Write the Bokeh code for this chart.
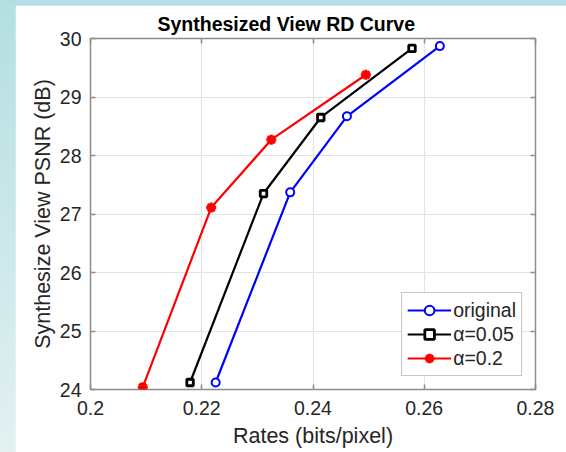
from bokeh.plotting import figure
from bokeh.models import Range1d, FixedTicker, LinearAxis
from bokeh.layouts import column
from bokeh.embed import file_html
from bokeh.resources import INLINE

# ---- data ----
x_ticks = [0.2, 0.22, 0.24, 0.26, 0.28]
x_tick_labels = ["0.2", "0.22", "0.24", "0.26", "0.28"]
y_ticks = [24, 25, 26, 27, 28, 29, 30]
y_tick_labels = ["24", "25", "26", "27", "28", "29", "30"]

rate_original = [0.2225, 0.2359, 0.2461, 0.2628]
psnr_original = [24.12, 27.37, 28.67, 29.87]

rate_a005 = [0.2179, 0.2311, 0.2414, 0.2578]
psnr_a005 = [24.12, 27.35, 28.65, 29.83]

rate_a02 = [0.2094, 0.2217, 0.2325, 0.2495]
psnr_a02 = [24.04, 27.11, 28.27, 29.38]

series_labels = ["original", "α=0.05", "α=0.2"]

FONT = "Liberation Sans"
TXT = "#262626"
AX = "#8c8c8c"

p = figure(width=551, height=447, output_backend="svg", toolbar_location=None,
           x_range=Range1d(0.2, 0.28), y_range=Range1d(24, 30),
           title="Synthesized View RD Curve",
           min_border_left=75, min_border_right=31,
           min_border_top=33, min_border_bottom=63)
p.margin = (5, 0, 0, 15)
p.background_fill_color = "white"
p.border_fill_color = "white"
p.outline_line_color = AX
p.outline_line_width = 1.5

p.title.text_font = FONT
p.title.text_font_size = "19.5px"
p.title.text_font_style = "bold"
p.title.text_color = "black"
p.title.align = "left"
p.title.offset = 67
p.title.standoff = 8

for ax in p.xaxis:
    ax.ticker = FixedTicker(ticks=x_ticks)
    ax.major_label_overrides = dict(zip(x_ticks, x_tick_labels))
    ax.axis_label = "Rates (bits/pixel)"
for ax in p.yaxis:
    ax.ticker = FixedTicker(ticks=y_ticks)
    ax.major_label_overrides = dict(zip(y_ticks, y_tick_labels))
    ax.axis_label = "Synthesize View PSNR (dB)"

for ax in p.xaxis + p.yaxis:
    ax.axis_line_color = None
    ax.major_tick_line_color = AX
    ax.major_tick_line_width = 1.5
    ax.major_tick_in = 5
    ax.major_tick_out = 0
    ax.minor_tick_line_color = None
    ax.major_label_text_font = FONT
    ax.major_label_text_font_size = "19.5px"
    ax.major_label_text_color = TXT
    ax.axis_label_text_font = FONT
    ax.axis_label_text_font_size = "21.5px"
    ax.axis_label_text_font_style = "normal"
    ax.axis_label_text_color = TXT
p.xaxis.major_label_standoff = 11
p.xaxis.axis_label_standoff = 6
p.yaxis.major_label_standoff = 9
p.yaxis.axis_label_standoff = 2

# mirrored ticks on top / right (no labels)
top = LinearAxis(ticker=FixedTicker(ticks=x_ticks), axis_line_color=None,
                 major_tick_line_color=AX, major_tick_line_width=1.5,
                 major_tick_in=5, major_tick_out=0, minor_tick_line_color=None,
                 major_label_overrides={t: "" for t in x_ticks}, major_label_standoff=0)
right = LinearAxis(ticker=FixedTicker(ticks=y_ticks), axis_line_color=None,
                   major_tick_line_color=AX, major_tick_line_width=1.5,
                   major_tick_in=5, major_tick_out=0, minor_tick_line_color=None,
                   major_label_overrides={t: "" for t in y_ticks}, major_label_standoff=0)
p.add_layout(top, "above")
p.add_layout(right, "right")

p.xgrid.ticker = FixedTicker(ticks=x_ticks)
p.ygrid.ticker = FixedTicker(ticks=y_ticks)
p.grid.grid_line_color = "#e3e3e3"
p.grid.grid_line_width = 1.2

# series
p.line(rate_original, psnr_original, line_color="#0000ff", line_width=2.2, legend_label=series_labels[0])
p.scatter(rate_original, psnr_original, marker="circle", size=8, line_color="#0000ff",
          fill_color="white", line_width=2, legend_label=series_labels[0])

p.line(rate_a005, psnr_a005, line_color="black", line_width=2.2, legend_label=series_labels[1])
p.scatter(rate_a005, psnr_a005, marker="square", size=6.5, line_color="black",
          fill_color="white", line_width=2.8, legend_label=series_labels[1])

p.line(rate_a02, psnr_a02, line_color="#ff0000", line_width=2.2, legend_label=series_labels[2])
p.scatter(rate_a02, psnr_a02, marker="asterisk", size=10, line_color="#ff0000",
          line_width=3, legend_label=series_labels[2])

leg = p.legend[0]
leg.location = "bottom_right"
leg.margin = 13
leg.padding = 5
leg.spacing = 0
leg.glyph_width = 44
leg.glyph_height = 24
leg.label_standoff = 2
leg.label_text_font = FONT
leg.label_text_font_size = "19.5px"
leg.label_text_color = TXT
leg.border_line_color = AX
leg.border_line_width = 1.5
leg.background_fill_color = "white"
leg.background_fill_alpha = 1

layout = column(p, width=566, height=452,
                styles={"background": "linear-gradient(180deg, #b3dfe3 0%, #cfe9eb 60%, #e3f1f1 100%)"})

open("out.html", "w").write(file_html(layout, INLINE))
